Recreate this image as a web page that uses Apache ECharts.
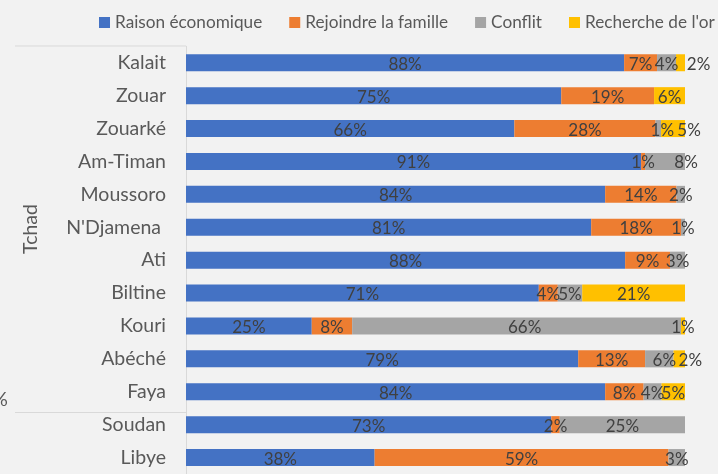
<!DOCTYPE html>
<html>
<head>
<meta charset="utf-8">
<script src="https://cdn.jsdelivr.net/npm/echarts@6/dist/echarts.min.js"></script>
<style>
html,body{margin:0;padding:0;background:#f2f2f2;}
#c{width:718px;height:474px;}
</style>
</head>
<body>
<div id="c"></div>
<script>
var categories = ["Kalait", "Zouar", "Zouarké", "Am-Timan", "Moussoro", "N'Djamena ", "Ati", "Biltine", "Kouri", "Abéché", "Faya", "Soudan", "Libye"];
var seriesNames = ["Raison économique", "Rejoindre la famille", "Conflit", "Recherche de l'or"];
var economique = [87.8, 75.2, 65.8, 91.2, 84.0, 81.2, 88.0, 70.7, 25.2, 78.6, 84.0, 73.2, 37.8];
var famille    = [6.6, 18.6, 28.3, 0.8, 14.3, 18.0, 9.0, 3.8, 8.1, 13.4, 7.7, 1.7, 58.9];
var conflit    = [3.8, 0, 1.1, 8.0, 1.7, 0.8, 3.0, 4.9, 65.9, 5.7, 3.6, 25.1, 3.3];
var orValues   = [1.8, 6.2, 4.8, 0, 0, 0, 0, 20.6, 0.8, 2.3, 4.7, 0, 0];
var groupLabel = "Tchad";

var colors = ['#4472c4', '#ed7d31', '#a5a5a5', '#ffc000'];
var FONT = 'Lato';
// manual horizontal label shifts, keyed "series_category"
var labelShift = {
  '2_2': 4, '2_3': 21, '2_8': 8, '2_9': 5,
  '3_0': 18, '3_2': 16, '3_9': 11
};

var allValues = [economique, famille, conflit, orValues];
var series = allValues.map(function (arr, si) {
  return {
    name: seriesNames[si],
    type: 'bar',
    stack: 'total',
    barWidth: 17,
    itemStyle: { color: colors[si] },
    label: {
      show: true,
      position: 'inside',
      color: '#404040',
      fontFamily: FONT,
      fontSize: 17,
      offset: [0, 1.5],
      formatter: function (p) { return p.value > 0 ? Math.round(p.value) + '%' : ''; }
    },
    data: arr.map(function (v, ci) {
      var s = labelShift[si + '_' + ci];
      if (s) return { value: v, label: { offset: [s, 1.5] } };
      return v;
    })
  };
});

var chart = echarts.init(document.getElementById('c'));
chart.setOption({
  backgroundColor: '#f2f2f2',
  animation: false,
  textStyle: { fontFamily: FONT },
  legend: {
    left: 94, top: 9, width: 1000,
    itemWidth: 11, itemHeight: 11, itemGap: 27,
    icon: 'rect',
    textStyle: { color: '#595959', fontSize: 17.2, fontFamily: FONT }
  },
  grid: { left: 186, right: 33, top: 46.3, bottom: -5.4, containLabel: false },
  xAxis: { type: 'value', min: 0, max: 100, show: false },
  yAxis: {
    type: 'category', inverse: true, data: categories,
    axisLine: { show: true, lineStyle: { color: '#d9d9d9', width: 1 } },
    axisTick: { show: false },
    axisLabel: { color: '#595959', fontSize: 19.5, fontFamily: FONT, margin: 20 }
  },
  graphic: [
    { type: 'line', shape: { x1: 15, y1: 46, x2: 186, y2: 46 }, style: { stroke: '#d9d9d9', lineWidth: 1 } },
    { type: 'line', shape: { x1: 15, y1: 412.5, x2: 186, y2: 412.5 }, style: { stroke: '#d9d9d9', lineWidth: 1 } },
    { type: 'text', x: 31, y: 229, rotation: Math.PI / 2,
      style: { text: groupLabel, fill: '#595959', font: '19.5px Lato', textAlign: 'center', textVerticalAlign: 'middle' } },
    { type: 'text', x: 8, y: 400,
      style: { text: '%', fill: '#595959', font: '19.5px Lato', textAlign: 'right', textVerticalAlign: 'middle' } }
  ],
  series: series
});
</script>
</body>
</html>
